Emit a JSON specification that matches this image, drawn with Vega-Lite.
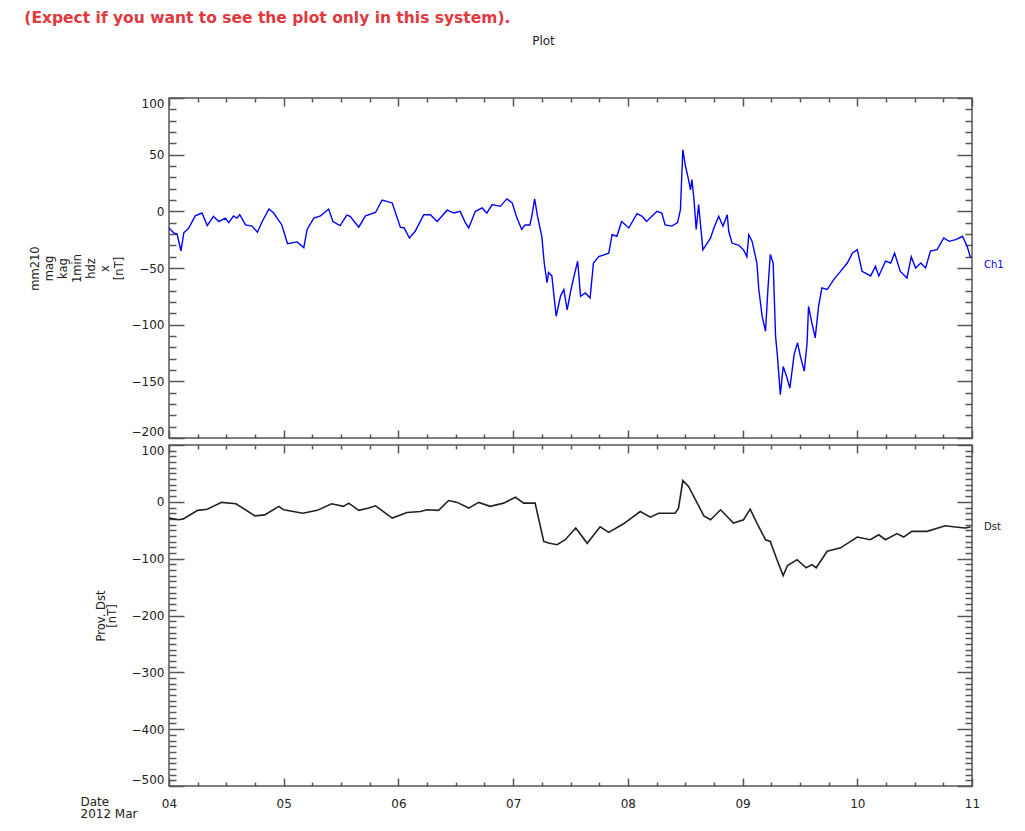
{
  "$schema": "https://vega.github.io/schema/vega-lite/v6.json",
  "background": "white",
  "padding": {"left": 24, "top": 10, "right": 5, "bottom": 5},
  "bounds": "flush",
  "title": {"text": "(Expect if you want to see the plot only in this system).", "anchor": "start", "frame": "bounds", "color": "#e0393e", "font": "DejaVu Sans", "fontSize": 15.5, "fontWeight": "bold", "offset": 8, "dx": -4},
  "config": {
    "view": {"stroke": "#555", "strokeWidth": 1.5},
    "axis": {"labelFont": "DejaVu Sans", "labelFontSize": 12, "labelColor": "#222", "tickColor": "#555", "tickWidth": 1.5, "domain": false, "grid": false, "titleFont": "DejaVu Sans", "titleFontWeight": "normal", "titleColor": "#222", "titleFontSize": 11.5, "labelFlush": false, "labelOverlap": false}
  },
  "datasets": {
    "mag": [
      {"t":"2012-03-04T00:00","v":-14.7},{"t":"2012-03-04T01:00","v":-19},{"t":"2012-03-04T01:42","v":-20},{"t":"2012-03-04T02:30","v":-35},{"t":"2012-03-04T03:06","v":-19},{"t":"2012-03-04T04:06","v":-15},{"t":"2012-03-04T05:30","v":-4},{"t":"2012-03-04T06:54","v":-1.5},{"t":"2012-03-04T08:00","v":-12.6},{"t":"2012-03-04T09:18","v":-4.4},{"t":"2012-03-04T10:24","v":-9},{"t":"2012-03-04T11:48","v":-6},{"t":"2012-03-04T12:30","v":-10},{"t":"2012-03-04T13:30","v":-4},{"t":"2012-03-04T14:12","v":-6},{"t":"2012-03-04T14:48","v":-3},{"t":"2012-03-04T16:00","v":-12},{"t":"2012-03-04T17:24","v":-13},{"t":"2012-03-04T18:30","v":-18.5},{"t":"2012-03-04T19:30","v":-9},{"t":"2012-03-04T20:54","v":2},{"t":"2012-03-04T21:54","v":-1.5},{"t":"2012-03-04T23:36","v":-12},
      {"t":"2012-03-05T00:48","v":-28.5},{"t":"2012-03-05T02:48","v":-27},{"t":"2012-03-05T04:12","v":-32},{"t":"2012-03-05T04:54","v":-16},{"t":"2012-03-05T06:18","v":-6},{"t":"2012-03-05T07:42","v":-4},{"t":"2012-03-05T09:24","v":2},{"t":"2012-03-05T10:18","v":-9},{"t":"2012-03-05T11:48","v":-12.6},{"t":"2012-03-05T13:12","v":-3.3},{"t":"2012-03-05T13:54","v":-4.4},{"t":"2012-03-05T15:42","v":-14},{"t":"2012-03-05T17:06","v":-4},{"t":"2012-03-05T19:12","v":-1},{"t":"2012-03-05T20:36","v":10},{"t":"2012-03-05T22:42","v":7.4},
      {"t":"2012-03-06T00:24","v":-14},{"t":"2012-03-06T01:12","v":-14.7},{"t":"2012-03-06T02:18","v":-23.5},{"t":"2012-03-06T03:30","v":-17.6},{"t":"2012-03-06T05:18","v":-3},{"t":"2012-03-06T06:42","v":-3},{"t":"2012-03-06T08:06","v":-9},{"t":"2012-03-06T10:12","v":1},{"t":"2012-03-06T11:36","v":-1.5},{"t":"2012-03-06T12:54","v":0},{"t":"2012-03-06T14:00","v":-10},{"t":"2012-03-06T14:42","v":-14.7},{"t":"2012-03-06T16:06","v":0},{"t":"2012-03-06T17:30","v":3},{"t":"2012-03-06T18:30","v":-1.5},{"t":"2012-03-06T19:36","v":6},{"t":"2012-03-06T21:18","v":4.4},{"t":"2012-03-06T22:42","v":11},{"t":"2012-03-06T23:48","v":7.4},
      {"t":"2012-03-07T00:48","v":-6},{"t":"2012-03-07T01:48","v":-16},{"t":"2012-03-07T02:30","v":-12},{"t":"2012-03-07T03:30","v":-12},{"t":"2012-03-07T03:54","v":-4.4},{"t":"2012-03-07T04:30","v":11},{"t":"2012-03-07T05:06","v":-4.4},{"t":"2012-03-07T06:00","v":-22},{"t":"2012-03-07T06:30","v":-45.6},{"t":"2012-03-07T07:06","v":-63},{"t":"2012-03-07T07:24","v":-54},{"t":"2012-03-07T08:06","v":-57},{"t":"2012-03-07T09:00","v":-92.6},{"t":"2012-03-07T09:54","v":-75},{"t":"2012-03-07T10:36","v":-69},{"t":"2012-03-07T11:18","v":-87},{"t":"2012-03-07T12:06","v":-69},{"t":"2012-03-07T12:48","v":-56},{"t":"2012-03-07T13:30","v":-44},{"t":"2012-03-07T14:06","v":-75},{"t":"2012-03-07T15:06","v":-72},{"t":"2012-03-07T16:06","v":-76.4},{"t":"2012-03-07T16:48","v":-45.6},{"t":"2012-03-07T17:54","v":-40},{"t":"2012-03-07T20:00","v":-37},{"t":"2012-03-07T20:42","v":-20.6},{"t":"2012-03-07T21:42","v":-22},{"t":"2012-03-07T22:42","v":-9},
      {"t":"2012-03-08T00:12","v":-14.7},{"t":"2012-03-08T01:54","v":-2},{"t":"2012-03-08T03:00","v":-4.4},{"t":"2012-03-08T03:54","v":-9},{"t":"2012-03-08T06:06","v":0},{"t":"2012-03-08T07:06","v":-1.5},{"t":"2012-03-08T07:48","v":-12},{"t":"2012-03-08T09:12","v":-13},{"t":"2012-03-08T10:24","v":-10},{"t":"2012-03-08T11:00","v":1.5},{"t":"2012-03-08T11:30","v":54.4},{"t":"2012-03-08T12:00","v":41},{"t":"2012-03-08T12:42","v":28},{"t":"2012-03-08T13:06","v":19},{"t":"2012-03-08T13:24","v":28},{"t":"2012-03-08T13:48","v":12},{"t":"2012-03-08T14:18","v":-16},{"t":"2012-03-08T14:48","v":6},{"t":"2012-03-08T15:18","v":-16},{"t":"2012-03-08T15:42","v":-34},{"t":"2012-03-08T16:36","v":-28},{"t":"2012-03-08T17:18","v":-23.5},{"t":"2012-03-08T18:00","v":-14.7},{"t":"2012-03-08T19:00","v":-4.4},{"t":"2012-03-08T19:54","v":-13},{"t":"2012-03-08T20:48","v":-3},{"t":"2012-03-08T21:06","v":-17.6},{"t":"2012-03-08T21:48","v":-28},{"t":"2012-03-08T23:12","v":-30},
      {"t":"2012-03-09T00:12","v":-34},{"t":"2012-03-09T00:54","v":-40},{"t":"2012-03-09T01:18","v":-20.6},{"t":"2012-03-09T02:00","v":-26.5},{"t":"2012-03-09T03:00","v":-45.6},{"t":"2012-03-09T03:24","v":-69},{"t":"2012-03-09T04:06","v":-92.6},{"t":"2012-03-09T04:48","v":-105.8},{"t":"2012-03-09T05:18","v":-69},{"t":"2012-03-09T05:48","v":-38},{"t":"2012-03-09T06:24","v":-45.6},{"t":"2012-03-09T06:54","v":-110},{"t":"2012-03-09T07:18","v":-128},{"t":"2012-03-09T07:54","v":-161.7},{"t":"2012-03-09T08:30","v":-137},{"t":"2012-03-09T09:12","v":-145.5},{"t":"2012-03-09T09:54","v":-156},{"t":"2012-03-09T10:48","v":-126},{"t":"2012-03-09T11:30","v":-116},{"t":"2012-03-09T12:06","v":-128},{"t":"2012-03-09T12:54","v":-141},{"t":"2012-03-09T13:30","v":-116},{"t":"2012-03-09T13:48","v":-83.8},{"t":"2012-03-09T14:30","v":-98.5},{"t":"2012-03-09T15:12","v":-111.7},{"t":"2012-03-09T15:54","v":-83.8},{"t":"2012-03-09T16:36","v":-67.6},{"t":"2012-03-09T17:42","v":-69},{"t":"2012-03-09T19:06","v":-60},{"t":"2012-03-09T20:30","v":-53},{"t":"2012-03-09T21:54","v":-45.6},{"t":"2012-03-09T23:00","v":-36.8},
      {"t":"2012-03-10T00:00","v":-33.8},{"t":"2012-03-10T01:00","v":-53},{"t":"2012-03-10T02:48","v":-57},{"t":"2012-03-10T03:48","v":-48.5},{"t":"2012-03-10T04:30","v":-57},{"t":"2012-03-10T05:54","v":-44},{"t":"2012-03-10T07:00","v":-45.6},{"t":"2012-03-10T07:48","v":-36.8},{"t":"2012-03-10T09:00","v":-53},{"t":"2012-03-10T10:24","v":-58.8},{"t":"2012-03-10T11:18","v":-40},{"t":"2012-03-10T12:12","v":-50},{"t":"2012-03-10T13:18","v":-45.6},{"t":"2012-03-10T14:18","v":-50},{"t":"2012-03-10T15:18","v":-35},{"t":"2012-03-10T16:42","v":-33.8},{"t":"2012-03-10T18:06","v":-23.5},{"t":"2012-03-10T19:12","v":-26.5},{"t":"2012-03-10T20:36","v":-25},{"t":"2012-03-10T22:00","v":-22},{"t":"2012-03-10T23:00","v":-31},{"t":"2012-03-10T23:42","v":-41}
    ],
    "dst": [
      {"t":"2012-03-04T00:00","v":-28.6},{"t":"2012-03-04T02:00","v":-31.6},{"t":"2012-03-04T03:00","v":-30},{"t":"2012-03-04T06:00","v":-15},{"t":"2012-03-04T08:00","v":-13},{"t":"2012-03-04T11:00","v":-1},{"t":"2012-03-04T14:00","v":-3.5},{"t":"2012-03-04T18:00","v":-24.6},{"t":"2012-03-04T20:00","v":-23},{"t":"2012-03-04T23:00","v":-8},
      {"t":"2012-03-05T00:00","v":-14},{"t":"2012-03-05T04:00","v":-20},{"t":"2012-03-05T07:00","v":-15},{"t":"2012-03-05T10:00","v":-3.5},{"t":"2012-03-05T12:30","v":-8},{"t":"2012-03-05T13:36","v":-2.3},{"t":"2012-03-05T15:42","v":-15},{"t":"2012-03-05T17:48","v":-11},{"t":"2012-03-05T19:12","v":-7},{"t":"2012-03-05T22:42","v":-28.6},
      {"t":"2012-03-06T01:48","v":-18.7},{"t":"2012-03-06T04:36","v":-17},{"t":"2012-03-06T06:00","v":-14},{"t":"2012-03-06T08:24","v":-15},{"t":"2012-03-06T10:30","v":2.3},{"t":"2012-03-06T12:18","v":-1},{"t":"2012-03-06T14:42","v":-11},{"t":"2012-03-06T16:48","v":-1},{"t":"2012-03-06T19:12","v":-8},{"t":"2012-03-06T22:00","v":-2.3},
      {"t":"2012-03-07T00:30","v":8},{"t":"2012-03-07T02:12","v":-2.3},{"t":"2012-03-07T04:36","v":-2.3},{"t":"2012-03-07T06:24","v":-69.6},{"t":"2012-03-07T07:24","v":-72.5},{"t":"2012-03-07T09:12","v":-75.4},{"t":"2012-03-07T10:54","v":-66.7},{"t":"2012-03-07T13:06","v":-46},{"t":"2012-03-07T15:30","v":-73},{"t":"2012-03-07T18:12","v":-44},{"t":"2012-03-07T20:00","v":-53.8},{"t":"2012-03-07T23:06","v":-38.6},
      {"t":"2012-03-08T02:36","v":-17},{"t":"2012-03-08T04:42","v":-27},{"t":"2012-03-08T06:24","v":-20},{"t":"2012-03-08T09:54","v":-20},{"t":"2012-03-08T10:36","v":-11},{"t":"2012-03-08T11:30","v":37.4},{"t":"2012-03-08T12:42","v":27},{"t":"2012-03-08T15:54","v":-24.6},{"t":"2012-03-08T17:18","v":-31.6},{"t":"2012-03-08T19:24","v":-14},{"t":"2012-03-08T22:06","v":-37.4},
      {"t":"2012-03-09T00:12","v":-31.6},{"t":"2012-03-09T01:36","v":-12.9},{"t":"2012-03-09T03:00","v":-37.4},{"t":"2012-03-09T04:48","v":-66.7},{"t":"2012-03-09T05:48","v":-69.6},{"t":"2012-03-09T07:12","v":-101.8},{"t":"2012-03-09T08:30","v":-129.8},{"t":"2012-03-09T09:24","v":-112},{"t":"2012-03-09T11:24","v":-101.8},{"t":"2012-03-09T13:18","v":-116},{"t":"2012-03-09T14:30","v":-110.5},{"t":"2012-03-09T15:24","v":-116},{"t":"2012-03-09T17:42","v":-87},{"t":"2012-03-09T20:30","v":-81},
      {"t":"2012-03-10T00:00","v":-62},{"t":"2012-03-10T02:42","v":-66.7},{"t":"2012-03-10T04:30","v":-58},{"t":"2012-03-10T05:54","v":-66.7},{"t":"2012-03-10T08:18","v":-56},{"t":"2012-03-10T09:42","v":-62},{"t":"2012-03-10T11:24","v":-52},{"t":"2012-03-10T14:36","v":-52},{"t":"2012-03-10T18:24","v":-42},{"t":"2012-03-10T20:30","v":-44.4},{"t":"2012-03-10T22:36","v":-46},{"t":"2012-03-10T23:42","v":-44.4}
    ],
    "lab1": [{"t":"2012-03-11T00:00","v":-47,"label":"Ch1"}],
    "lab2": [{"t":"2012-03-11T00:00","v":-44,"label":"Dst"}]
  },
  "spacing": 7,
  "vconcat": [
    {
      "width": 803, "height": 340,
      "title": {"text": "Plot", "font": "DejaVu Sans", "fontSize": 12, "fontWeight": "normal", "color": "#222", "offset": 49, "dx": -27},
      "resolve": {"axis": {"x": "independent", "y": "independent"}},
      "layer": [
        {"data": {"name": "mag"}, "mark": {"type": "line", "color": "#0000ff", "strokeWidth": 1.4},
         "encoding": {
           "x": {"field": "t", "type": "temporal", "scale": {"domain": [{"year":2012,"month":3,"date":4},{"year":2012,"month":3,"date":11}]},
                 "axis": {"orient": "bottom", "labels": false, "title": null, "tickSize": -8, "tickCount": {"interval": "day", "step": 1}}},
           "y": {"field": "v", "type": "quantitative", "scale": {"domain": [-200, 100], "nice": false, "zero": false},
                 "axis": {"orient": "left", "ticks": false, "labelPadding": 5, "labelFlush": true, "values": [-200,-150,-100,-50,0,50,100],
                          "title": ["mm210","mag","kag","1min","hdz","x","[nT]"], "titleLineHeight": 14, "titlePadding": 7}}
         }},
        {"data": {"name": "lab1"}, "mark": {"type": "text", "align": "left", "dx": 12, "font": "DejaVu Sans", "fontSize": 10, "color": "#0000ff"},
         "encoding": {
           "x": {"field": "t", "type": "temporal", "axis": {"orient": "top", "labels": false, "title": null, "tickSize": -8, "tickCount": {"interval": "day", "step": 1}}},
           "y": {"field": "v", "type": "quantitative", "axis": {"orient": "right", "labels": false, "title": null, "tickSize": -15, "values": [-200,-150,-100,-50,0,50,100]}},
           "text": {"field": "label"}
         }},
        {"data": {"name": "lab1"}, "mark": {"type": "point", "opacity": 0},
         "encoding": {
           "x": {"field": "t", "type": "temporal", "axis": {"orient": "top", "labels": false, "title": null, "tickSize": -4,
             "values": [{"year":2012,"month":3,"date":4,"hours":6},{"year":2012,"month":3,"date":4,"hours":12},{"year":2012,"month":3,"date":4,"hours":18},{"year":2012,"month":3,"date":5,"hours":6},{"year":2012,"month":3,"date":5,"hours":12},{"year":2012,"month":3,"date":5,"hours":18},{"year":2012,"month":3,"date":6,"hours":6},{"year":2012,"month":3,"date":6,"hours":12},{"year":2012,"month":3,"date":6,"hours":18},{"year":2012,"month":3,"date":7,"hours":6},{"year":2012,"month":3,"date":7,"hours":12},{"year":2012,"month":3,"date":7,"hours":18},{"year":2012,"month":3,"date":8,"hours":6},{"year":2012,"month":3,"date":8,"hours":12},{"year":2012,"month":3,"date":8,"hours":18},{"year":2012,"month":3,"date":9,"hours":6},{"year":2012,"month":3,"date":9,"hours":12},{"year":2012,"month":3,"date":9,"hours":18},{"year":2012,"month":3,"date":10,"hours":6},{"year":2012,"month":3,"date":10,"hours":12},{"year":2012,"month":3,"date":10,"hours":18}]}},
           "y": {"field": "v", "type": "quantitative", "axis": {"orient": "right", "labels": false, "title": null, "tickSize": -7,
             "values": [-190,-180,-170,-160,-140,-130,-120,-110,-90,-80,-70,-60,-40,-30,-20,-10,10,20,30,40,60,70,80,90]}}
         }},
        {"data": {"name": "lab1"}, "mark": {"type": "point", "opacity": 0},
         "encoding": {
           "x": {"field": "t", "type": "temporal", "axis": {"orient": "bottom", "labels": false, "title": null, "tickSize": -4,
             "values": [{"year":2012,"month":3,"date":4,"hours":6},{"year":2012,"month":3,"date":4,"hours":12},{"year":2012,"month":3,"date":4,"hours":18},{"year":2012,"month":3,"date":5,"hours":6},{"year":2012,"month":3,"date":5,"hours":12},{"year":2012,"month":3,"date":5,"hours":18},{"year":2012,"month":3,"date":6,"hours":6},{"year":2012,"month":3,"date":6,"hours":12},{"year":2012,"month":3,"date":6,"hours":18},{"year":2012,"month":3,"date":7,"hours":6},{"year":2012,"month":3,"date":7,"hours":12},{"year":2012,"month":3,"date":7,"hours":18},{"year":2012,"month":3,"date":8,"hours":6},{"year":2012,"month":3,"date":8,"hours":12},{"year":2012,"month":3,"date":8,"hours":18},{"year":2012,"month":3,"date":9,"hours":6},{"year":2012,"month":3,"date":9,"hours":12},{"year":2012,"month":3,"date":9,"hours":18},{"year":2012,"month":3,"date":10,"hours":6},{"year":2012,"month":3,"date":10,"hours":12},{"year":2012,"month":3,"date":10,"hours":18}]}},
           "y": {"field": "v", "type": "quantitative", "axis": {"orient": "left", "labels": false, "title": null, "tickSize": -7,
             "values": [-190,-180,-170,-160,-140,-130,-120,-110,-90,-80,-70,-60,-40,-30,-20,-10,10,20,30,40,60,70,80,90]}}
         }},
        {"data": {"name": "lab1"}, "mark": {"type": "point", "opacity": 0},
         "encoding": {
           "x": {"field": "t", "type": "temporal", "axis": null},
           "y": {"field": "v", "type": "quantitative", "axis": {"orient": "left", "labels": false, "title": null, "tickSize": -15, "values": [-200,-150,-100,-50,0,50,100]}}
         }}
      ]
    },
    {
      "width": 803, "height": 341,
      "resolve": {"axis": {"x": "independent", "y": "independent"}},
      "layer": [
        {"data": {"name": "dst"}, "mark": {"type": "line", "color": "#222", "strokeWidth": 1.6},
         "encoding": {
           "x": {"field": "t", "type": "temporal", "scale": {"domain": [{"year":2012,"month":3,"date":4},{"year":2012,"month":3,"date":11}]},
                 "axis": {"orient": "bottom", "ticks": false, "labelPadding": 12, "format": "%d", "tickCount": {"interval": "day", "step": 1},
                          "title": ["Date", "2012 Mar"], "titleFontSize": 12, "titleLineHeight": 12, "titleAlign": "left", "titleAnchor": "start", "titleBaseline": "top", "titleX": -89, "titleY": 10}},
           "y": {"field": "v", "type": "quantitative", "scale": {"domain": [-500, 100], "nice": false, "zero": false},
                 "axis": {"orient": "left", "ticks": false, "labelPadding": 5, "labelFlush": true, "values": [-500,-400,-300,-200,-100,0,100],
                          "title": ["Prov. Dst", "[nT]"], "titleLineHeight": 11, "titlePadding": 14}}
         }},
        {"data": {"name": "lab2"}, "mark": {"type": "text", "align": "left", "dx": 12, "font": "DejaVu Sans", "fontSize": 10, "color": "#222"},
         "encoding": {
           "x": {"field": "t", "type": "temporal", "axis": {"orient": "top", "labels": false, "title": null, "tickSize": -8, "tickCount": {"interval": "day", "step": 1}}},
           "y": {"field": "v", "type": "quantitative", "axis": {"orient": "right", "labels": false, "title": null, "tickSize": -15, "values": [-500,-400,-300,-200,-100,0,100]}},
           "text": {"field": "label"}
         }},
        {"data": {"name": "lab2"}, "mark": {"type": "point", "opacity": 0},
         "encoding": {
           "x": {"field": "t", "type": "temporal", "axis": {"orient": "top", "labels": false, "title": null, "tickSize": -4,
             "values": [{"year":2012,"month":3,"date":4,"hours":6},{"year":2012,"month":3,"date":4,"hours":12},{"year":2012,"month":3,"date":4,"hours":18},{"year":2012,"month":3,"date":5,"hours":6},{"year":2012,"month":3,"date":5,"hours":12},{"year":2012,"month":3,"date":5,"hours":18},{"year":2012,"month":3,"date":6,"hours":6},{"year":2012,"month":3,"date":6,"hours":12},{"year":2012,"month":3,"date":6,"hours":18},{"year":2012,"month":3,"date":7,"hours":6},{"year":2012,"month":3,"date":7,"hours":12},{"year":2012,"month":3,"date":7,"hours":18},{"year":2012,"month":3,"date":8,"hours":6},{"year":2012,"month":3,"date":8,"hours":12},{"year":2012,"month":3,"date":8,"hours":18},{"year":2012,"month":3,"date":9,"hours":6},{"year":2012,"month":3,"date":9,"hours":12},{"year":2012,"month":3,"date":9,"hours":18},{"year":2012,"month":3,"date":10,"hours":6},{"year":2012,"month":3,"date":10,"hours":12},{"year":2012,"month":3,"date":10,"hours":18}]}},
           "y": {"field": "v", "type": "quantitative", "axis": {"orient": "right", "labels": false, "title": null, "tickSize": -7,
             "values": [-490,-480,-470,-460,-450,-440,-430,-420,-410,-390,-380,-370,-360,-350,-340,-330,-320,-310,-290,-280,-270,-260,-250,-240,-230,-220,-210,-190,-180,-170,-160,-150,-140,-130,-120,-110,-90,-80,-70,-60,-50,-40,-30,-20,-10,10,20,30,40,50,60,70,80,90]}}
         }},
        {"data": {"name": "lab2"}, "mark": {"type": "point", "opacity": 0},
         "encoding": {
           "x": {"field": "t", "type": "temporal", "axis": {"orient": "bottom", "labels": false, "title": null, "tickSize": -4,
             "values": [{"year":2012,"month":3,"date":4,"hours":6},{"year":2012,"month":3,"date":4,"hours":12},{"year":2012,"month":3,"date":4,"hours":18},{"year":2012,"month":3,"date":5,"hours":6},{"year":2012,"month":3,"date":5,"hours":12},{"year":2012,"month":3,"date":5,"hours":18},{"year":2012,"month":3,"date":6,"hours":6},{"year":2012,"month":3,"date":6,"hours":12},{"year":2012,"month":3,"date":6,"hours":18},{"year":2012,"month":3,"date":7,"hours":6},{"year":2012,"month":3,"date":7,"hours":12},{"year":2012,"month":3,"date":7,"hours":18},{"year":2012,"month":3,"date":8,"hours":6},{"year":2012,"month":3,"date":8,"hours":12},{"year":2012,"month":3,"date":8,"hours":18},{"year":2012,"month":3,"date":9,"hours":6},{"year":2012,"month":3,"date":9,"hours":12},{"year":2012,"month":3,"date":9,"hours":18},{"year":2012,"month":3,"date":10,"hours":6},{"year":2012,"month":3,"date":10,"hours":12},{"year":2012,"month":3,"date":10,"hours":18}]}},
           "y": {"field": "v", "type": "quantitative", "axis": {"orient": "left", "labels": false, "title": null, "tickSize": -7,
             "values": [-490,-480,-470,-460,-450,-440,-430,-420,-410,-390,-380,-370,-360,-350,-340,-330,-320,-310,-290,-280,-270,-260,-250,-240,-230,-220,-210,-190,-180,-170,-160,-150,-140,-130,-120,-110,-90,-80,-70,-60,-50,-40,-30,-20,-10,10,20,30,40,50,60,70,80,90]}}
         }},
        {"data": {"name": "lab2"}, "mark": {"type": "point", "opacity": 0},
         "encoding": {
           "x": {"field": "t", "type": "temporal", "axis": {"orient": "bottom", "labels": false, "title": null, "tickSize": -8, "tickCount": {"interval": "day", "step": 1}}},
           "y": {"field": "v", "type": "quantitative", "axis": {"orient": "left", "labels": false, "title": null, "tickSize": -15, "values": [-500,-400,-300,-200,-100,0,100]}}
         }}
      ]
    }
  ]
}
